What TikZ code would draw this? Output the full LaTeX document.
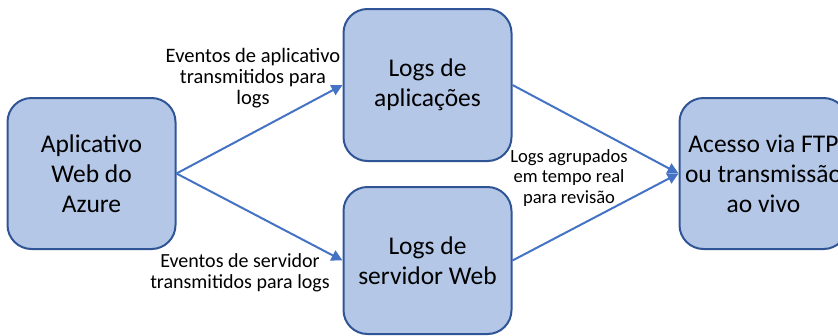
\documentclass[tikz,border=0pt]{standalone}
\usepackage{fontspec}
\setmainfont{Carlito}
\usetikzlibrary{positioning, arrows.meta}
\definecolor{boxFill}{HTML}{B4C7E7}
\definecolor{boxLine}{HTML}{2F5597}
\definecolor{linkBlue}{HTML}{4472C4}

\begin{document}
\begin{tikzpicture}[x=1pt, y=-1pt,
	block/.style={draw=boxLine, fill=boxFill, line width=2pt, rounded corners=24pt,
	minimum width=168pt, minimum height=151pt, align=center, inner sep=0pt,
	font=\fontsize{25.5}{30}\selectfont},
	link/.style={draw=linkBlue, line width=2pt, -{Triangle[length=11pt,width=11pt]}},
	note/.style={align=center, inner sep=0pt, font=\fontsize{20}{21}\selectfont}]
	
	\useasboundingbox (0,0) rectangle (838,335);
	
	%Web app block
	\node (webApp) at (91.5,173.5) [block] {Aplicativo\\ Web do\\ Azure};
	
	%Log blocks
	\node (appLogs) at (427.5,85) [block, minimum height=152pt] {Logs de\\ aplicações};
	\node (serverLogs) at (427.5,260.5) [block, minimum height=147pt] {Logs de\\ servidor Web};
	
	%Access block
	\node (ftpAccess) at (763.5,173.5) [block] {Acesso via FTP\\ ou transmissão\\ ao vivo};
	
	%Labels
	\node (appNote) at (253,78) [note, font=\fontsize{20.5}{21}\selectfont] {Eventos de aplicativo\\ transmitidos para\\ logs};
	\node (serverNote) at (240,273) [note] {Eventos de servidor\\ transmitidos para logs};
	\node (mergeNote) at (569,178) [note, font=\fontsize{18.6}{20.5}\selectfont] {Logs agrupados\\ em tempo real\\ para revisão};
	
	%Links
	\draw[link] (webApp.east) -- (appLogs.west);
	\draw[link] (webApp.east) -- (serverLogs.west);
	\draw[link] (appLogs.east) -- (ftpAccess.west);
	\draw[link] (serverLogs.east) -- (ftpAccess.west);
	
\end{tikzpicture}
\end{document}
